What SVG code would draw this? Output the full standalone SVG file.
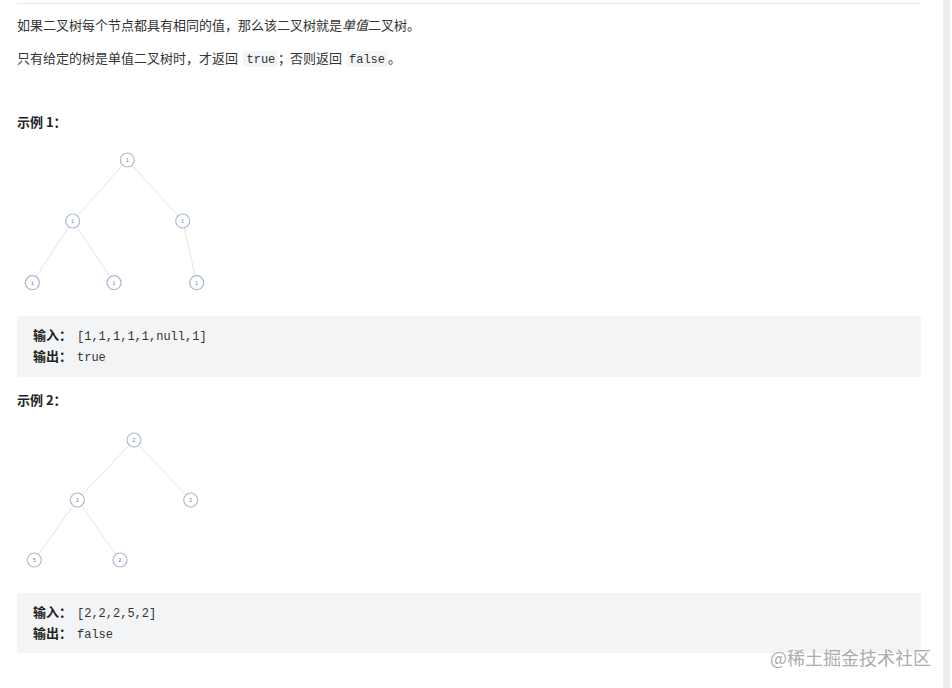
<svg xmlns="http://www.w3.org/2000/svg" width="952" height="688" viewBox="0 0 952 688">
<style>
.t{font-family:"Noto Sans CJK SC","Liberation Sans",sans-serif;font-size:13px;fill:#333}
.b{font-weight:bold;fill:#222}
.m{font-family:"Liberation Mono","DejaVu Sans Mono",monospace;font-size:12px;fill:#333}
.cb{fill:#f3f4f5}
.ic{fill:#f4f5f6}
.n circle{fill:#fff;stroke:#a9bad3;stroke-width:1.2}
.n text{font-family:"Liberation Sans",sans-serif;font-size:5px;fill:#777;text-anchor:middle}
.e line{stroke:#e2e4e6;stroke-width:1}
.wm{font-family:"Noto Sans CJK SC",sans-serif;font-size:18px;fill:#acacac}
</style>
<rect width="952" height="688" fill="#fff"/>
<line x1="17" y1="3.5" x2="920" y2="3.5" stroke="#e8e8e8" stroke-width="1"/>
<rect x="943" y="0" width="7" height="688" fill="#ededed"/>
<text class="t" x="17" y="30">如果二叉树每个节点都具有相同的值，那么该二叉树就是<tspan font-style="italic">单值</tspan>二叉树。</text>
<rect class="ic" x="243" y="51" width="35" height="16" rx="2"/>
<rect class="ic" x="346" y="51" width="42" height="16" rx="2"/>
<text class="t" x="17" y="63">只有给定的树是单值二叉树时，才返回</text>
<text class="m" x="246.5" y="63">true</text>
<text class="t" x="278" y="63">；</text>
<text class="t" x="290" y="63">否则返回</text>
<text class="m" x="349" y="63">false</text>
<text class="t" x="388" y="63">。</text>
<text class="t b" x="17" y="127">示例 1：</text>
<g id="connectors1" class="e">
<line x1="127.3" y1="160" x2="72.7" y2="221"/>
<line x1="127.3" y1="160" x2="182.7" y2="221"/>
<line x1="72.7" y1="221" x2="32.3" y2="282.7"/>
<line x1="72.7" y1="221" x2="114" y2="282.7"/>
<line x1="182.7" y1="221" x2="196.7" y2="282.7"/>
</g>
<g id="t1n1" class="n"><circle cx="127.3" cy="160" r="7"/><text x="127.3" y="161.8">1</text></g>
<g id="t1n2" class="n"><circle cx="72.7" cy="221" r="7"/><text x="72.7" y="222.8">1</text></g>
<g id="t1n3" class="n"><circle cx="182.7" cy="221" r="7"/><text x="182.7" y="222.8">1</text></g>
<g id="t1n4" class="n"><circle cx="32.3" cy="282.7" r="7"/><text x="32.3" y="284.5">1</text></g>
<g id="t1n5" class="n"><circle cx="114" cy="282.7" r="7"/><text x="114" y="284.5">1</text></g>
<g id="t1n6" class="n"><circle cx="196.7" cy="282.7" r="7"/><text x="196.7" y="284.5">1</text></g>
<rect class="cb" x="17" y="316" width="904" height="61" rx="2"/>
<text class="t b" x="33" y="340">输入：</text>
<text class="m" x="77" y="340">[1,1,1,1,1,null,1]</text>
<text class="t b" x="33" y="361">输出：</text>
<text class="m" x="77" y="361">true</text>
<text class="t b" x="17" y="405">示例 2：</text>
<g id="connectors2" class="e">
<line x1="134" y1="440" x2="77.3" y2="500"/>
<line x1="134" y1="440" x2="190.7" y2="500"/>
<line x1="77.3" y1="500" x2="34.3" y2="560"/>
<line x1="77.3" y1="500" x2="120" y2="560"/>
</g>
<g id="t2n1" class="n"><circle cx="134" cy="440" r="7"/><text x="134" y="441.8">2</text></g>
<g id="t2n2" class="n"><circle cx="77.3" cy="500" r="7"/><text x="77.3" y="501.8">2</text></g>
<g id="t2n3" class="n"><circle cx="190.7" cy="500" r="7"/><text x="190.7" y="501.8">2</text></g>
<g id="t2n4" class="n"><circle cx="34.3" cy="560" r="7"/><text x="34.3" y="561.8">5</text></g>
<g id="t2n5" class="n"><circle cx="120" cy="560" r="7"/><text x="120" y="561.8">2</text></g>
<rect class="cb" x="17" y="593" width="904" height="60" rx="2"/>
<text class="t b" x="33" y="617">输入：</text>
<text class="m" x="77" y="617">[2,2,2,5,2]</text>
<text class="t b" x="33" y="638">输出：</text>
<text class="m" x="77" y="638">false</text>
<text class="wm" x="770" y="665">@稀土掘金技术社区</text>
</svg>
